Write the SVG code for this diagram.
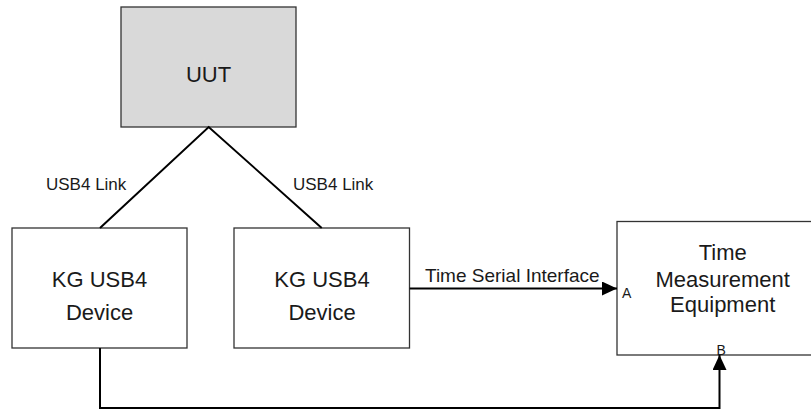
<svg xmlns="http://www.w3.org/2000/svg" width="811" height="410" viewBox="0 0 811 410">
<defs>
<marker id="arr" markerUnits="userSpaceOnUse" markerWidth="16" markerHeight="14" refX="15" refY="7" orient="auto">
<path d="M0,0 L15,7 L0,14 Z" fill="#000"/>
</marker>
<style>
.box{fill:#fff;stroke:#333;stroke-width:1.3}
.gray{fill:#d9d9d9}
.t{font-family:"Liberation Sans",Arial,sans-serif;fill:#1a1a1a}
.big{font-size:22px;text-anchor:middle}
.small{font-size:17px}
.port{font-size:14px}
.conn{fill:none;stroke:#000;stroke-width:2}
</style>
</defs>
<rect width="811" height="410" fill="#fff"/>
<g id="uut">
<rect class="box gray" x="121" y="7" width="175" height="120"/>
<text class="t big" x="208.5" y="81.5">UUT</text>
</g>
<g id="kg1">
<rect class="box" x="12" y="228" width="175" height="120"/>
<text class="t big" x="99.5" y="286.5">KG USB4</text>
<text class="t big" x="99.5" y="320">Device</text>
</g>
<g id="kg2">
<rect class="box" x="234" y="228" width="175.5" height="120"/>
<text class="t big" x="322" y="286.5">KG USB4</text>
<text class="t big" x="322" y="320">Device</text>
</g>
<g id="tme">
<rect class="box" x="617" y="221.5" width="220" height="133.5"/>
<text class="t big" x="722.7" y="260">Time</text>
<text class="t big" x="722.7" y="286.5">Measurement</text>
<text class="t big" x="722.7" y="311.5">Equipment</text>
<text class="t port" x="622" y="297.5">A</text>
<text class="t port" x="716.5" y="354.5">B</text>
</g>
<g id="connectors">
<polyline class="conn" points="100,228 208.7,127 321.7,228"/>
<line class="conn" x1="409.7" y1="288.5" x2="617" y2="288.5" marker-end="url(#arr)"/>
<polyline class="conn" points="100,348 100,408 719.5,408 719.5,355" marker-end="url(#arr)"/>
<text class="t small" x="46" y="190">USB4 Link</text>
<text class="t small" x="293" y="190">USB4 Link</text>
<text class="t small" x="425" y="281.5" style="font-size:19px">Time Serial Interface</text>
</g>
</svg>
